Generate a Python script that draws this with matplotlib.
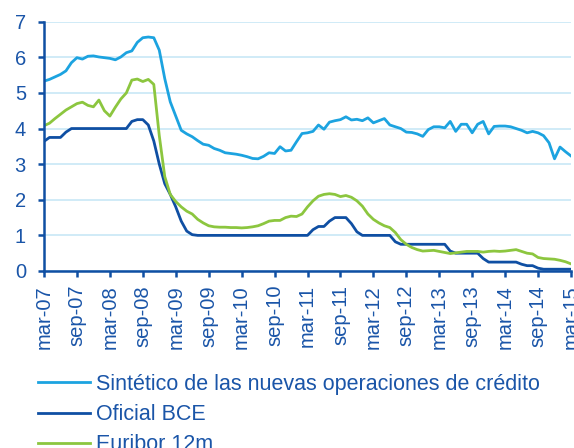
import numpy as np
import matplotlib
matplotlib.use("Agg")
import matplotlib.pyplot as plt

plt.rcParams['font.family'] = ['Liberation Sans', 'DejaVu Sans']

# monthly data, mar-07 .. mar-15 (97 months)
sintetico = [
    5.33, 5.38, 5.45, 5.52, 5.62, 5.85, 5.99, 5.95, 6.03, 6.04,
    6.01, 5.99, 5.97, 5.93, 6.01, 6.13, 6.18, 6.42, 6.55, 6.57,
    6.55, 6.20, 5.40, 4.75, 4.35, 3.95, 3.85, 3.77, 3.66, 3.56,
    3.53, 3.44, 3.39, 3.32, 3.30, 3.28, 3.25, 3.21, 3.16, 3.15,
    3.22, 3.32, 3.30, 3.49, 3.37, 3.39, 3.63, 3.86, 3.88, 3.92,
    4.10, 3.98, 4.18, 4.22, 4.25, 4.33, 4.24, 4.26, 4.22, 4.30,
    4.16, 4.22, 4.28, 4.10, 4.05, 4.00, 3.90, 3.89, 3.85, 3.78,
    3.97, 4.05, 4.05, 4.02, 4.20, 3.92, 4.12, 4.12, 3.88, 4.12,
    4.20, 3.85, 4.06, 4.07, 4.07, 4.05, 4.00, 3.95, 3.88, 3.92,
    3.88, 3.80, 3.60, 3.15, 3.48, 3.35, 3.23,
]
oficial_bce = [
    3.64, 3.75, 3.75, 3.75, 3.90, 4.00, 4.00, 4.00, 4.00, 4.00,
    4.00, 4.00, 4.00, 4.00, 4.00, 4.00, 4.20, 4.25, 4.25, 4.10,
    3.65, 3.00, 2.45, 2.15, 1.80, 1.40, 1.12, 1.02, 1.00, 1.00,
    1.00, 1.00, 1.00, 1.00, 1.00, 1.00, 1.00, 1.00, 1.00, 1.00,
    1.00, 1.00, 1.00, 1.00, 1.00, 1.00, 1.00, 1.00, 1.00, 1.16,
    1.25, 1.25, 1.40, 1.50, 1.50, 1.50, 1.33, 1.10, 1.00, 1.00,
    1.00, 1.00, 1.00, 1.00, 0.82, 0.75, 0.75, 0.75, 0.75, 0.75,
    0.75, 0.75, 0.75, 0.75, 0.56, 0.50, 0.50, 0.50, 0.50, 0.50,
    0.35, 0.25, 0.25, 0.25, 0.25, 0.25, 0.25, 0.19, 0.15, 0.15,
    0.08, 0.05, 0.05, 0.05, 0.05, 0.05, 0.05,
]
euribor_12m = [
    4.08, 4.15, 4.28, 4.40, 4.52, 4.61, 4.70, 4.74, 4.65, 4.61,
    4.80, 4.50, 4.35, 4.60, 4.83, 5.00, 5.36, 5.39, 5.32, 5.38,
    5.24, 3.80, 2.65, 2.15, 1.95, 1.80, 1.68, 1.60, 1.45, 1.35,
    1.27, 1.24, 1.23, 1.23, 1.22, 1.22, 1.21, 1.22, 1.24, 1.27,
    1.33, 1.40, 1.42, 1.42, 1.50, 1.54, 1.53, 1.60, 1.80, 1.97,
    2.10, 2.15, 2.17, 2.15, 2.09, 2.12, 2.07, 1.97, 1.82, 1.60,
    1.45, 1.35, 1.27, 1.22, 1.08, 0.88, 0.75, 0.66, 0.60, 0.56,
    0.57, 0.58, 0.55, 0.52, 0.49, 0.51, 0.53, 0.55, 0.55, 0.55,
    0.53, 0.55, 0.56, 0.55, 0.56, 0.58, 0.60, 0.55, 0.50, 0.48,
    0.38, 0.35, 0.34, 0.33, 0.30, 0.26, 0.20,
]
tick_labels = ['mar-07', 'sep-07', 'mar-08', 'sep-08', 'mar-09', 'sep-09',
               'mar-10', 'sep-10', 'mar-11', 'sep-11', 'mar-12', 'sep-12',
               'mar-13', 'sep-13', 'mar-14', 'sep-14', 'mar-15']

c_light = '#1ca3e0'
c_dark = '#0f4fa3'
c_green = '#8cc63f'
c_grid = '#c8e8f6'
c_text = '#1a55a8'

fig = plt.figure(figsize=(5.74, 4.48), dpi=100)
ax = fig.add_axes([44 / 574, 1 - 271 / 448, 527 / 574, (271 - 21.7) / 448])

x = np.arange(len(sintetico))
ax.plot(x, sintetico, color=c_light, lw=2.0, label='Sintético de las nuevas operaciones de crédito')
ax.plot(x, oficial_bce, color=c_dark, lw=2.0, label='Oficial BCE')
ax.plot(x, euribor_12m, color=c_green, lw=2.0, label='Euribor 12m')

ax.set_xlim(0, 96)
ax.set_ylim(0, 7)
ax.set_yticks(range(8))
ax.set_xticks(np.arange(0, 97, 6))
ax.set_xticklabels(tick_labels, rotation=90)
ax.yaxis.grid(True, color=c_grid, lw=1.2)
ax.set_axisbelow(True)

for s in ['top', 'right']:
    ax.spines[s].set_visible(False)
for s in ['left', 'bottom']:
    ax.spines[s].set_color(c_dark)
    ax.spines[s].set_linewidth(1.8)
ax.tick_params(axis='y', colors=c_dark, labelcolor=c_text, labelsize=14.5,
               length=4, width=1.8, pad=9)
ax.tick_params(axis='x', colors=c_dark, labelcolor=c_text, labelsize=14.5,
               length=4, width=1.8, pad=6)

fig.legend(loc='upper left', bbox_to_anchor=(38 / 574, 1 - 374 / 448),
           frameon=False, fontsize=15.5, labelcolor=c_text, handlelength=2.4,
           handletextpad=0.3, labelspacing=0.42, borderpad=0, borderaxespad=0)

fig.savefig('out.png', dpi=100)
